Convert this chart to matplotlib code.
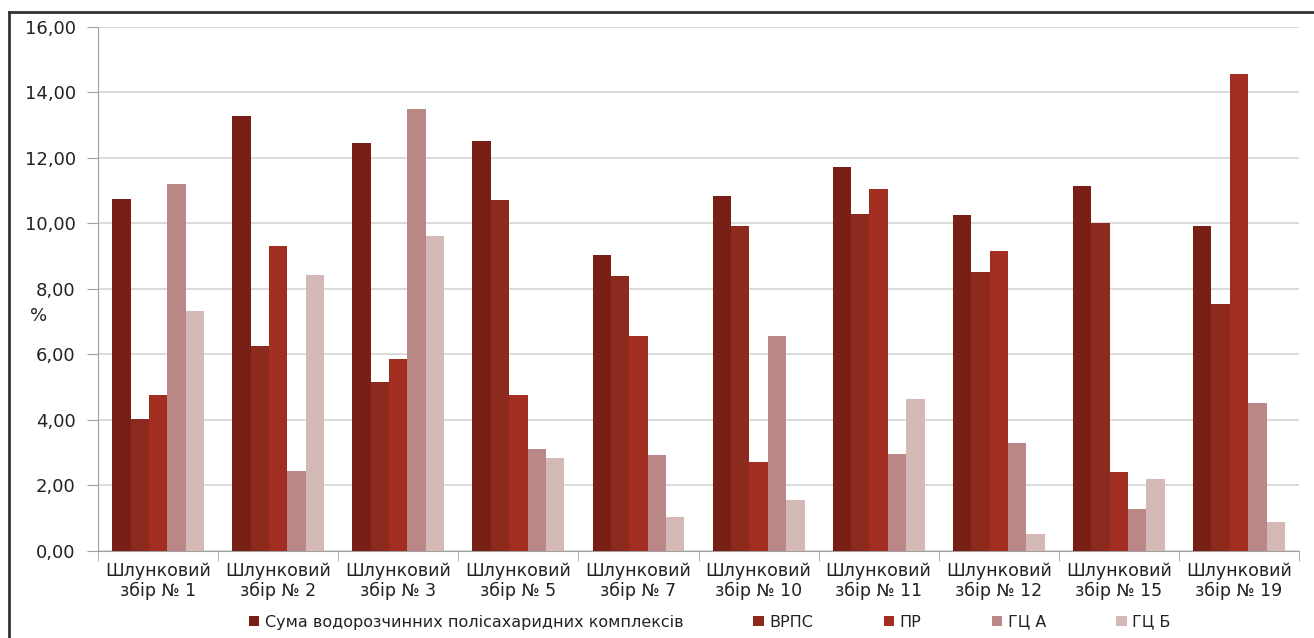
import numpy as np
import matplotlib
matplotlib.use("Agg")
import matplotlib.pyplot as plt
from matplotlib.lines import Line2D

plt.rcParams['font.family'] = ['DejaVu Sans']

# Назви зборів
groups = ["Шлунковий\nзбір № 1", "Шлунковий\nзбір № 2", "Шлунковий\nзбір № 3",
          "Шлунковий\nзбір № 5", "Шлунковий\nзбір № 7", "Шлунковий\nзбір № 10",
          "Шлунковий\nзбір № 11", "Шлунковий\nзбір № 12", "Шлунковий\nзбір № 15",
          "Шлунковий\nзбір № 19"]

series_names = ["Сума водорозчинних полісахаридних комплексів", "ВРПС", "ПР", "ГЦ А", "ГЦ Б"]

suma = [10.75, 13.27, 12.47, 12.53, 9.03, 10.85, 11.72, 10.25, 11.13, 9.92]
vrps = [4.03, 6.25, 5.15, 10.72, 8.40, 9.93, 10.30, 8.52, 10.03, 7.53]
pr = [4.75, 9.30, 5.85, 4.75, 6.57, 2.72, 11.05, 9.17, 2.40, 14.57]
gc_a = [11.22, 2.45, 13.50, 3.12, 2.92, 6.55, 2.95, 3.30, 1.27, 4.52]
gc_b = [7.33, 8.42, 9.63, 2.83, 1.03, 1.55, 4.63, 0.52, 2.20, 0.90]

colors = ["#7a1f16", "#8c2a1d", "#a12e20", "#b98886", "#d4b8b6"]

fig = plt.figure(figsize=(13.14, 6.38), dpi=100)
ax = fig.add_axes([0.0746, 0.1364, 0.9140, 0.8213])

x = np.arange(len(groups))
w = 0.153
for i, vals in enumerate([suma, vrps, pr, gc_a, gc_b]):
    ax.bar(x + (i - 2) * w, vals, width=w, color=colors[i], label=series_names[i], zorder=3)

ax.set_xlim(-0.5, len(groups) - 0.5)
ax.set_ylim(0, 16)
ax.set_yticks(np.arange(0, 17, 2))
ax.set_yticklabels([f"{v:.2f}".replace(".", ",") for v in np.arange(0, 17, 2)], fontsize=13, color="#222222")
ax.yaxis.grid(True, color="#d4d4d4", linewidth=1.2, zorder=0)
ax.set_xticks(x)
ax.set_xticklabels(groups, fontsize=12.5, color="#222222", linespacing=1.1)
ax.set_xticks(np.arange(-0.5, len(groups), 1), minor=True)
ax.tick_params(axis="x", which="major", length=0, pad=8)
ax.tick_params(axis="x", which="minor", length=7, color="#a0a0a0", direction="out")
ax.tick_params(axis="y", length=8, color="#a0a0a0", pad=8)

for s in ["top", "right"]:
    ax.spines[s].set_visible(False)
for s in ["left", "bottom"]:
    ax.spines[s].set_color("#a0a0a0")

fig.text(0.023, 0.505, "%", fontsize=13, color="#222222", ha="left", va="center")

ax.legend(loc="center", bbox_to_anchor=(0.54, 0.025), bbox_transform=fig.transFigure,
          ncol=5, frameon=False, fontsize=11.5, handlelength=0.65, handleheight=0.65,
          handletextpad=0.35, columnspacing=4.4, labelcolor="#222222")

# рамка
fig.add_artist(Line2D([0.0068, 1.0], [0.981, 0.981], color="#333333", linewidth=2))
fig.add_artist(Line2D([0.0068, 0.0068], [0.0, 0.981], color="#333333", linewidth=2))

fig.savefig("out.png", dpi=100)
